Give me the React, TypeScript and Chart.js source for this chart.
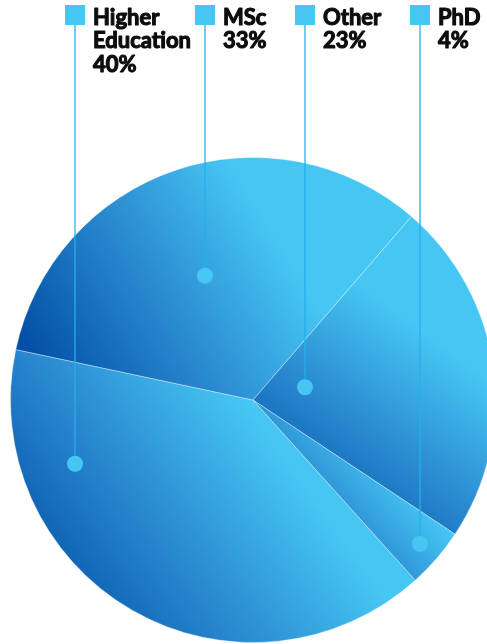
import React, { useEffect, useRef } from "react";
import { Chart, registerables } from "chart.js";

Chart.register(...registerables);

const categories = ["Higher Education", "MSc", "Other", "PhD"];
const shares = [40, 33, 23, 4];

const DARK = "#0250a6";
const MID = "#2a8ad0";
const LIGHT = "#46c6f3";
const ACCENT = "#45c6f3";
const LINE = "#22b0ec";
const LEGEND_X = [65, 195, 295, 410];
const ROTATION = 138;

function sliceGeom(chart: any, i: number) {
  const a = chart.chartArea;
  const cx = (a.left + a.right) / 2;
  const cy = (a.top + a.bottom) / 2;
  const r = Math.min(a.right - a.left, a.bottom - a.top) / 2;
  const data = chart.data.datasets[0].data as number[];
  const total = data.reduce((s, v) => s + v, 0);
  let start = (ROTATION * Math.PI) / 180 - Math.PI / 2;
  for (let k = 0; k < i; k++) start += (2 * Math.PI * data[k]) / total;
  const end = start + (2 * Math.PI * data[i]) / total;
  return { cx, cy, r, start, end };
}

function sliceGradient(ctx: any) {
  const chart = ctx.chart;
  if (!chart.chartArea || ctx.dataIndex == null) return LIGHT;
  const { cx, cy, r, start, end } = sliceGeom(chart, ctx.dataIndex);
  const pts: number[][] = [
    [cx, cy],
    [cx + r * Math.cos(start), cy + r * Math.sin(start)],
    [cx + r * Math.cos(end), cy + r * Math.sin(end)],
  ];
  for (let q = Math.ceil(start / (Math.PI / 2)); (q * Math.PI) / 2 <= end; q++) {
    const ang = (q * Math.PI) / 2;
    pts.push([cx + r * Math.cos(ang), cy + r * Math.sin(ang)]);
  }
  const xs = pts.map((p) => p[0]);
  const ys = pts.map((p) => p[1]);
  const g = chart.ctx.createLinearGradient(
    Math.min(...xs),
    Math.max(...ys),
    Math.max(...xs),
    Math.min(...ys)
  );
  g.addColorStop(0, DARK);
  g.addColorStop(0.08, DARK);
  g.addColorStop(0.38, MID);
  g.addColorStop(0.66, LIGHT);
  g.addColorStop(1, LIGHT);
  return g;
}

const calloutPlugin = {
  id: "callouts",
  afterDatasetsDraw(chart: any) {
    const ctx = chart.ctx as CanvasRenderingContext2D;
    const meta = chart.getDatasetMeta(0);
    const data = chart.data.datasets[0].data as number[];
    const labels = chart.data.labels as string[];
    ctx.save();
    meta.data.forEach((arc: any, i: number) => {
      const { y, outerRadius } = arc.getProps(["y", "outerRadius"], true);
      const lx = LEGEND_X[i] + 10;
      let minY = Infinity;
      let maxY = -Infinity;
      for (let py = y - outerRadius; py <= y + outerRadius; py += 0.5) {
        if (arc.inRange(lx, py, true)) {
          if (py < minY) minY = py;
          if (py > maxY) maxY = py;
        }
      }
      const dotY = (minY + maxY) / 2;
      ctx.strokeStyle = LINE;
      ctx.lineWidth = 1.3;
      ctx.beginPath();
      ctx.moveTo(lx, 25);
      ctx.lineTo(lx, dotY);
      ctx.stroke();
      ctx.fillStyle = ACCENT;
      ctx.beginPath();
      ctx.arc(lx, dotY, 8, 0, Math.PI * 2);
      ctx.fill();
      ctx.fillRect(LEGEND_X[i], 5, 20, 20);
      const lines = [...labels[i].split(" "), `${data[i]}%`];
      ctx.fillStyle = "#0d0d0d";
      ctx.strokeStyle = "#0d0d0d";
      ctx.lineWidth = 1.1;
      ctx.lineJoin = "round";
      ctx.font = "bold 22px Lato";
      ctx.textBaseline = "alphabetic";
      ctx.textAlign = "left";
      lines.forEach((t, k) => {
        const tx = LEGEND_X[i] + 28;
        const ty = 25 + k * 23.4;
        ctx.fillText(t, tx, ty);
        ctx.strokeText(t, tx, ty);
      });
    });
    ctx.restore();
  },
};

export default function App() {
  const ref = useRef<HTMLCanvasElement>(null);
  useEffect(() => {
    if (!ref.current) return;
    const chart = new Chart(ref.current, {
      type: "pie",
      data: {
        labels: categories,
        datasets: [
          {
            data: shares,
            backgroundColor: sliceGradient as any,
            borderColor: "rgba(255,255,255,0.35)",
            borderWidth: 1,
          },
        ],
      },
      options: {
        animation: false,
        responsive: true,
        maintainAspectRatio: false,
        rotation: ROTATION,
        layout: { padding: { left: 10, right: 10, top: 157, bottom: 1 } },
        plugins: { legend: { display: false }, tooltip: { enabled: false } },
      },
      plugins: [calloutPlugin],
    });
    return () => chart.destroy();
  }, []);
  return (
    <div
      style={{
        position: "absolute",
        left: 0,
        top: 0,
        width: 487,
        height: 644,
        overflow: "hidden",
        background: "#fff",
      }}
    >
      <div style={{ width: 506, height: 644, position: "relative" }}>
        <canvas ref={ref} />
      </div>
    </div>
  );
}
